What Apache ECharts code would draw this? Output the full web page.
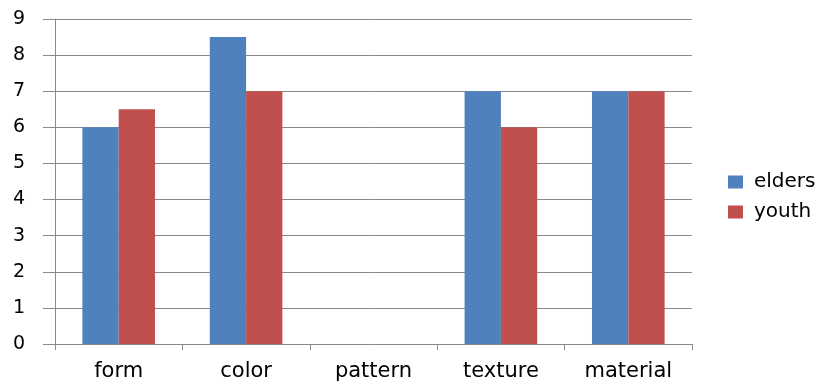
<!DOCTYPE html>
<html><head><meta charset="utf-8">
<script src="https://cdn.jsdelivr.net/npm/echarts@6/dist/echarts.min.js"></script>
<style>html,body{margin:0;padding:0;background:#fff}#c{width:830px;height:382px}</style>
</head><body><div id="c"></div>
<script>
const categories = ['form', 'color', 'pattern', 'texture', 'material'];
const elders = [6, 8.5, 0, 7, 7];
const youth = [6.5, 7, 0, 6, 7];
const yTicks = [0, 1, 2, 3, 4, 5, 6, 7, 8, 9];

const chart = echarts.init(document.getElementById('c'), null, {renderer: 'canvas'});
const font = 'DejaVu Sans';
chart.setOption({
  animation: false,
  backgroundColor: '#ffffff',
  textStyle: {fontFamily: font},
  legend: {
    orient: 'vertical',
    left: 723, top: 167,
    itemWidth: 15, itemHeight: 13, itemGap: 10,
    icon: 'rect',
    textStyle: {fontSize: 20, color: '#000', fontFamily: font, padding: [0, 0, 0, 6]},
    data: ['elders', 'youth']
  },
  grid: {left: 55, right: 138, top: 19, bottom: 38, containLabel: false},
  xAxis: {
    type: 'category',
    data: categories,
    axisLine: {lineStyle: {color: '#8a8a8a', width: 1}},
    axisTick: {show: true, length: 6, inside: false, lineStyle: {color: '#8a8a8a'}},
    axisLabel: {fontSize: 21, color: '#000', margin: 17, fontFamily: font}
  },
  yAxis: {
    type: 'value',
    min: yTicks[0], max: yTicks[yTicks.length - 1], interval: 1,
    axisLine: {show: true, lineStyle: {color: '#8a8a8a'}},
    axisTick: {show: true, length: 12, lineStyle: {color: '#8a8a8a'}},
    splitLine: {lineStyle: {color: '#8a8a8a', width: 1}},
    axisLabel: {fontSize: 19, color: '#000', margin: 30, fontFamily: font}
  },
  series: [
    {name: 'elders', type: 'bar', data: elders, barGap: '0%', barCategoryGap: '43%',
     itemStyle: {color: '#4F81BD'}},
    {name: 'youth', type: 'bar', data: youth, barGap: '0%', barCategoryGap: '43%',
     itemStyle: {color: '#C0504D'}}
  ]
});
</script></body></html>
